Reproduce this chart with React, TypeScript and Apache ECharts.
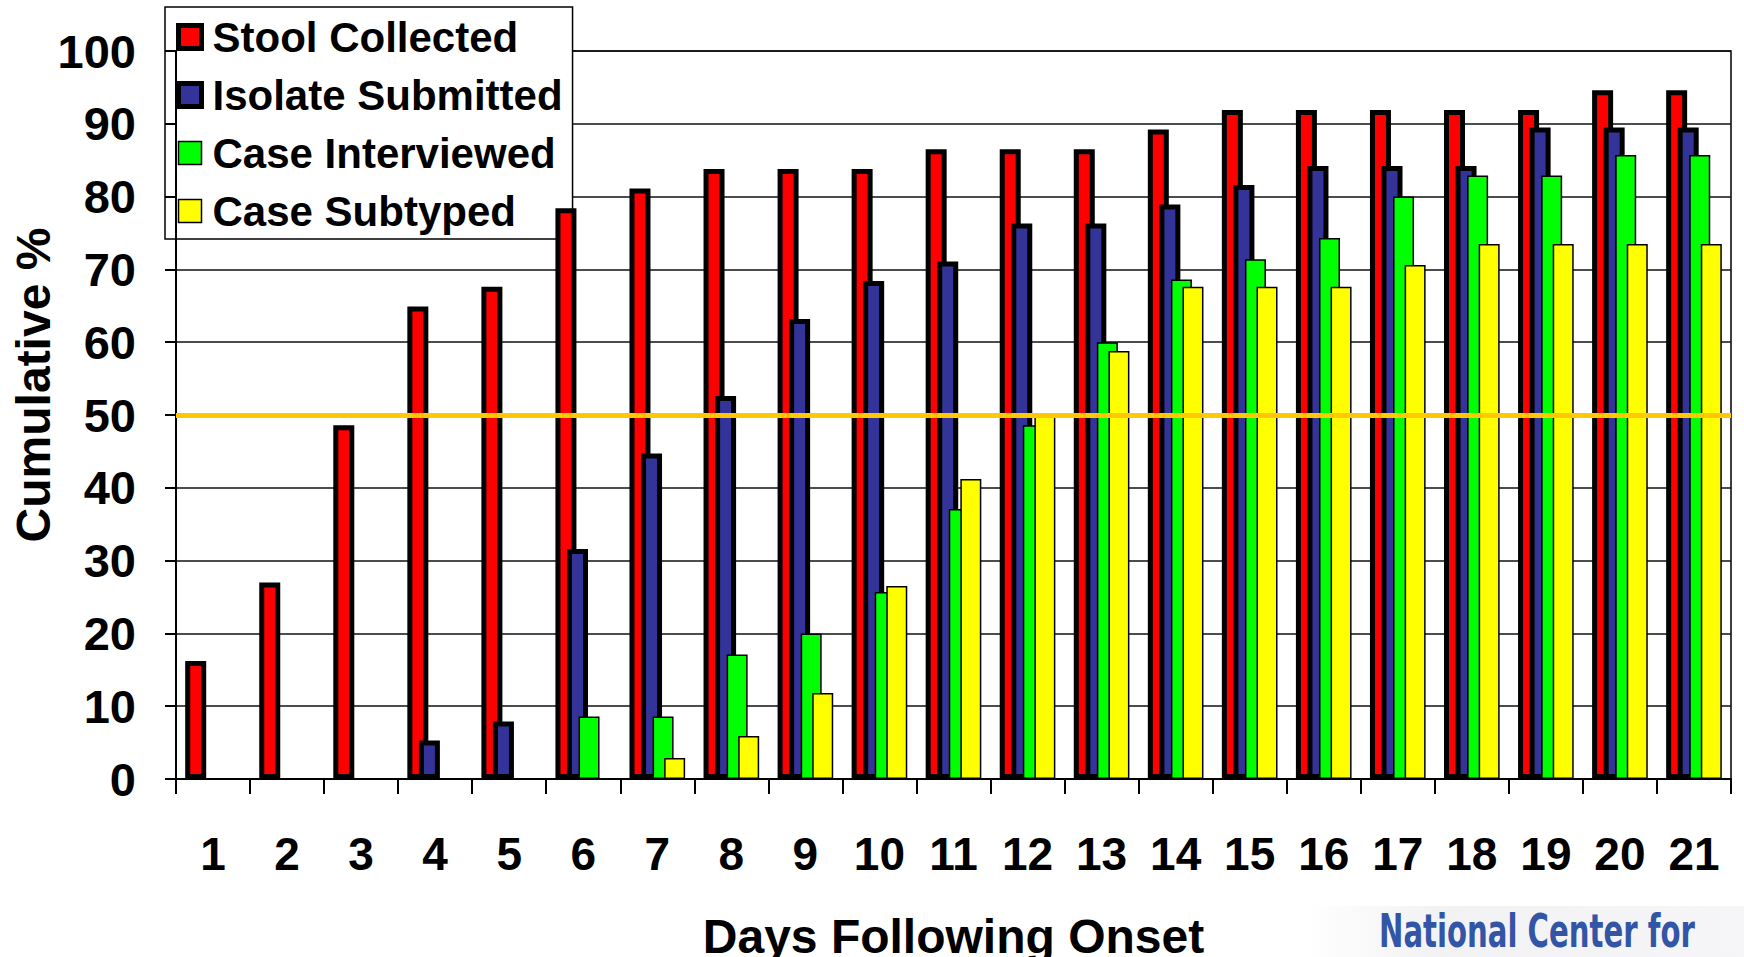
import React, { useEffect, useRef } from "react";
import * as echarts from "echarts";

const days = ["1","2","3","4","5","6","7","8","9","10","11","12","13","14","15","16","17","18","19","20","21"];
const stoolCollected = [16.2, 27.0, 48.6, 64.9, 67.6, 78.4, 81.1, 83.8, 83.8, 83.8, 86.5, 86.5, 86.5, 89.2, 91.9, 91.9, 91.9, 91.9, 91.9, 94.6, 94.6];
const isolateSubmitted = [0, 0, 0, 5.3, 7.9, 31.6, 44.7, 52.6, 63.2, 68.4, 71.1, 76.3, 76.3, 78.9, 81.6, 84.2, 84.2, 84.2, 89.5, 89.5, 89.5];
const caseInterviewed = [0, 0, 0, 0, 0, 8.6, 8.6, 17.1, 20.0, 25.7, 37.1, 48.6, 60.0, 68.6, 71.4, 74.3, 80.0, 82.9, 82.9, 85.7, 85.7];
const caseSubtyped = [0, 0, 0, 0, 0, 0, 2.9, 5.9, 11.8, 26.5, 41.2, 50.0, 58.8, 67.6, 67.6, 67.6, 70.6, 73.5, 73.5, 73.5, 73.5];
const yTicks = { min: 0, max: 100, interval: 10 };
const referenceLevel = 50;

const FONT = "'Liberation Sans', Arial, sans-serif";

export default function App() {
  const ref = useRef<HTMLDivElement>(null);
  useEffect(() => {
    if (!ref.current) return;
    const chart = echarts.init(ref.current, undefined, { renderer: "svg" });
    const barW = 21;
    const gap = "-45%";
    const mk = (name: string, data: number[], color: string, bw: number, extra: any = {}) => ({
      name,
      type: "bar",
      data: data.map((v) => (v === 0 ? null : v)),
      barWidth: barW,
      barGap: gap,
      z: 3,
      itemStyle: { color, borderColor: "#000", borderWidth: bw },
      ...extra,
    });
    chart.setOption({
      animation: false,
      backgroundColor: "#fff",
      grid: {
        left: 176, right: 13, top: 51, bottom: 178,
        outerBoundsMode: "none",
        containLabel: false,
        show: true, borderColor: "#000", borderWidth: 1.5, backgroundColor: "transparent",
      },
      legend: {
        orient: "vertical",
        left: 165,
        top: 7,
        padding: [6, 10, 4, 11],
        backgroundColor: "#fff",
        borderColor: "#000",
        borderWidth: 1.5,
        itemWidth: 23,
        itemHeight: 23,
        itemGap: 10,
        icon: "rect",
        textStyle: { fontFamily: FONT, fontWeight: "bold", fontSize: 42, color: "#000", lineHeight: 48, padding: [0, 0, 0, 6] },
        data: [
          { name: "Stool Collected", itemStyle: { color: "#FF0000", borderColor: "#000", borderWidth: 5 } },
          { name: "Isolate Submitted", itemStyle: { color: "#333399", borderColor: "#000", borderWidth: 5 } },
          { name: "Case Interviewed", itemStyle: { color: "#00FF00", borderColor: "#000", borderWidth: 1.5 } },
          { name: "Case Subtyped", itemStyle: { color: "#FFFF00", borderColor: "#000", borderWidth: 1.5 } },
        ],
        z: 1,
      },
      xAxis: {
        type: "category",
        data: days,
        boundaryGap: true,
        name: "Days Following Onset",
        nameLocation: "middle",
        nameGap: 136,
        nameTextStyle: { fontFamily: FONT, fontWeight: "bold", fontSize: 48, lineHeight: 42, color: "#000" },
        axisLine: { show: true, lineStyle: { color: "#000", width: 2 } },
        axisTick: { show: true, alignWithLabel: false, interval: 0, length: 15, lineStyle: { color: "#000", width: 2 } },
        axisLabel: { interval: 0, margin: 52, fontFamily: FONT, fontWeight: "bold", fontSize: 46, color: "#000" },
        splitLine: { show: false },
        z: 4,
      },
      yAxis: [
        {
          type: "value",
          min: yTicks.min,
          max: yTicks.max,
          interval: yTicks.interval,
          axisLine: { show: false },
          axisTick: { show: false },
          axisLabel: { margin: 40, fontFamily: FONT, fontWeight: "bold", fontSize: 47, color: "#000" },
          splitLine: { show: true, lineStyle: { color: "#111", width: 1.5 } },
          z: 0,
        },
        {
          type: "value",
          position: "left",
          min: yTicks.min,
          max: yTicks.max,
          interval: yTicks.interval,
          axisLine: { show: true, lineStyle: { color: "#000", width: 2 } },
          axisTick: { show: true, length: 11, lineStyle: { color: "#000", width: 2 } },
          axisLabel: { show: false },
          splitLine: { show: false },
          z: 5,
        },
      ],
      series: [
        mk("Stool Collected", stoolCollected, "#FF0000", 5),
        mk("Isolate Submitted", isolateSubmitted, "#333399", 5),
        mk("Case Interviewed", caseInterviewed, "#00FF00", 1.5),
        mk("Case Subtyped", caseSubtyped, "#FFFF00", 1.5, {
          markLine: {
            silent: true,
            symbol: "none",
            z: 10,
            label: { show: false },
            lineStyle: { color: "#FFC800", width: 5, type: "solid" },
            data: [{ yAxis: referenceLevel }],
          },
        }),
      ],
      graphic: [
        {
          type: "text",
          x: 33,
          y: 385,
          rotation: Math.PI / 2,
          style: {
            text: "Cumulative %",
            fontFamily: FONT,
            fontWeight: "bold",
            fontSize: 48,
            fill: "#000",
            textAlign: "center",
            textVerticalAlign: "middle",
          },
        },
        {
          type: "rect",
          shape: { x: 1307, y: 906, width: 437, height: 51 },
          style: {
            fill: new echarts.graphic.LinearGradient(0, 0, 1, 0, [
              { offset: 0, color: "#ffffff" },
              { offset: 0.3, color: "#f2f2f4" },
              { offset: 1, color: "#f6f6f8" },
            ]),
          },
          z: 0,
        },
        {
          type: "text",
          x: 1379,
          y: 931,
          scaleX: 0.69,
          style: {
            text: "National Center for",
            fontFamily: "'DejaVu Sans Condensed', 'DejaVu Sans', sans-serif",
            fontWeight: "bold",
            fontSize: 47,
            fill: "#3355A5",
            textAlign: "left",
            textVerticalAlign: "middle",
          },
          z: 1,
        },
      ],
    });
    return () => chart.dispose();
  }, []);
  return <div ref={ref} style={{ position: "fixed", left: 0, top: 0, width: 1744, height: 957 }} />;
}
